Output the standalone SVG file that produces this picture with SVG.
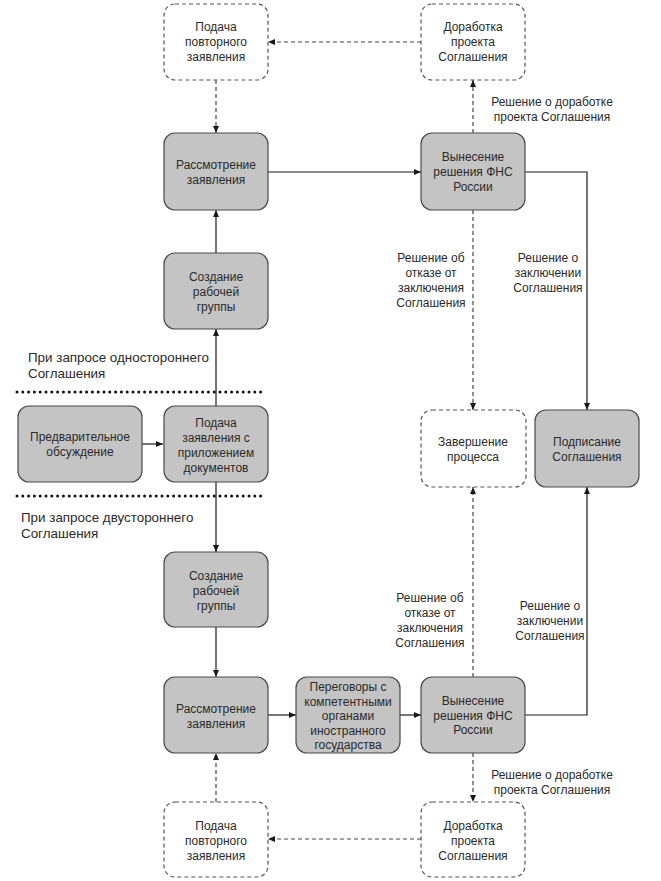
<svg xmlns="http://www.w3.org/2000/svg" width="661" height="881" viewBox="0 0 661 881">
<defs>
<marker id="ah" markerUnits="userSpaceOnUse" markerWidth="8" markerHeight="8" refX="7" refY="3" orient="auto">
<path d="M0,0 L7,3 L0,6 z" fill="#1a1a1a"/>
</marker>
<style>
.box{fill:#c4c4c4;stroke:#4a4a4a;stroke-width:1.2}
.dbox{fill:#ffffff;stroke:#555;stroke-width:1.2;stroke-dasharray:4 3}
.t{font-family:"Liberation Sans",Arial,sans-serif;font-size:12px;fill:#2a2a2a;text-anchor:middle}
.l{font-family:"Liberation Sans",Arial,sans-serif;font-size:13.4px;fill:#2a2a2a}
.s{fill:none;stroke:#1a1a1a;stroke-width:1.2;marker-end:url(#ah)}
.d{fill:none;stroke:#444;stroke-width:1.2;stroke-dasharray:4 3;marker-end:url(#ah)}
.sep{stroke:#111;stroke-width:3;stroke-linecap:round;stroke-dasharray:0 5.8}
</style>
</defs>
<rect width="661" height="881" fill="#ffffff"/>

<g id="separators">
<line class="sep" x1="17" y1="392" x2="262" y2="392"/>
<line class="sep" x1="17" y1="496" x2="262" y2="496"/>
</g>

<g id="connectors">
<line class="d" x1="421" y1="42" x2="268" y2="42"/>
<line class="d" x1="216" y1="80" x2="216" y2="133"/>
<line class="s" x1="268" y1="172" x2="421" y2="172"/>
<line class="d" x1="473" y1="133" x2="473" y2="80"/>
<line class="d" x1="473" y1="210" x2="473" y2="410"/>
<path class="s" d="M525,172 H587 V410"/>
<line class="s" x1="216" y1="406" x2="216" y2="329"/>
<line class="s" x1="216" y1="253" x2="216" y2="210"/>
<line class="s" x1="142" y1="444" x2="163" y2="444"/>
<line class="s" x1="216" y1="482" x2="216" y2="552"/>
<line class="s" x1="216" y1="627" x2="216" y2="677"/>
<line class="s" x1="268" y1="715" x2="296" y2="715"/>
<line class="s" x1="400" y1="715" x2="421" y2="715"/>
<line class="d" x1="473" y1="677" x2="473" y2="487"/>
<path class="s" d="M525,715 H587 V487"/>
<line class="d" x1="473" y1="753" x2="473" y2="802"/>
<line class="d" x1="421" y1="839" x2="268" y2="839"/>
<line class="d" x1="216" y1="802" x2="216" y2="753"/>
</g>

<g id="labels">
<text class="t" x="552" y="106">Решение о доработке</text>
<text class="t" x="552" y="121">проекта Соглашения</text>
<text class="t" x="431" y="262">Решение об</text>
<text class="t" x="431" y="277">отказе от</text>
<text class="t" x="431" y="292">заключения</text>
<text class="t" x="431" y="307">Соглашения</text>
<text class="t" x="548" y="262">Решение о</text>
<text class="t" x="548" y="277">заключении</text>
<text class="t" x="548" y="292">Соглашения</text>
<text class="l" x="28" y="362">При запросе одностороннего</text>
<text class="l" x="28" y="378">Соглашения</text>
<text class="l" x="21" y="522">При запросе двустороннего</text>
<text class="l" x="21" y="538">Соглашения</text>
<text class="t" x="430" y="602">Решение об</text>
<text class="t" x="430" y="617">отказе от</text>
<text class="t" x="430" y="632">заключения</text>
<text class="t" x="430" y="647">Соглашения</text>
<text class="t" x="550" y="610">Решение о</text>
<text class="t" x="550" y="625">заключении</text>
<text class="t" x="550" y="640">Соглашения</text>
<text class="t" x="552" y="779">Решение о доработке</text>
<text class="t" x="552" y="794">проекта Соглашения</text>
</g>

<g id="n-podacha-top">
<rect class="dbox" x="164" y="4" width="104" height="76" rx="11"/>
<text class="t" x="216" y="31">Подача</text>
<text class="t" x="216" y="46">повторного</text>
<text class="t" x="216" y="61">заявления</text>
</g>
<g id="n-dorabotka-top">
<rect class="dbox" x="421" y="4" width="104" height="76" rx="11"/>
<text class="t" x="473" y="31">Доработка</text>
<text class="t" x="473" y="46">проекта</text>
<text class="t" x="473" y="61">Соглашения</text>
</g>
<g id="n-rassm-top">
<rect class="box" x="164" y="133" width="104" height="77" rx="11"/>
<text class="t" x="216" y="168.5">Рассмотрение</text>
<text class="t" x="216" y="183.5">заявления</text>
</g>
<g id="n-vynes-top">
<rect class="box" x="421" y="133" width="104" height="77" rx="11"/>
<text class="t" x="473" y="161">Вынесение</text>
<text class="t" x="473" y="176">решения ФНС</text>
<text class="t" x="473" y="191">России</text>
</g>
<g id="n-sozd-top">
<rect class="box" x="164" y="253" width="104" height="76" rx="11"/>
<text class="t" x="216" y="281">Создание</text>
<text class="t" x="216" y="296">рабочей</text>
<text class="t" x="216" y="311">группы</text>
</g>
<g id="n-predv">
<rect class="box" x="18" y="406" width="124" height="76" rx="11"/>
<text class="t" x="80" y="441">Предварительное</text>
<text class="t" x="80" y="456">обсуждение</text>
</g>
<g id="n-podacha-main">
<rect class="box" x="164" y="406" width="104" height="76" rx="11"/>
<text class="t" x="216" y="427">Подача</text>
<text class="t" x="216" y="442">заявления с</text>
<text class="t" x="216" y="457">приложением</text>
<text class="t" x="216" y="472">документов</text>
</g>
<g id="n-zaversh">
<rect class="dbox" x="421" y="410" width="105" height="77" rx="11"/>
<text class="t" x="473" y="446">Завершение</text>
<text class="t" x="473" y="461">процесса</text>
</g>
<g id="n-podpis">
<rect class="box" x="535" y="410" width="104" height="77" rx="11"/>
<text class="t" x="587" y="446">Подписание</text>
<text class="t" x="587" y="461">Соглашения</text>
</g>
<g id="n-sozd-bot">
<rect class="box" x="164" y="552" width="104" height="75" rx="11"/>
<text class="t" x="216" y="580">Создание</text>
<text class="t" x="216" y="595">рабочей</text>
<text class="t" x="216" y="610">группы</text>
</g>
<g id="n-rassm-bot">
<rect class="box" x="164" y="677" width="104" height="76" rx="11"/>
<text class="t" x="216" y="713">Рассмотрение</text>
<text class="t" x="216" y="728">заявления</text>
</g>
<g id="n-peregov">
<rect class="box" x="296" y="677" width="104" height="76" rx="11"/>
<text class="t" x="348" y="691">Переговоры с</text>
<text class="t" x="348" y="705.5">компетентными</text>
<text class="t" x="348" y="720">органами</text>
<text class="t" x="348" y="734.5">иностранного</text>
<text class="t" x="348" y="749">государства</text>
</g>
<g id="n-vynes-bot">
<rect class="box" x="421" y="677" width="104" height="76" rx="11"/>
<text class="t" x="473" y="705">Вынесение</text>
<text class="t" x="473" y="720">решения ФНС</text>
<text class="t" x="473" y="734">России</text>
</g>
<g id="n-podacha-bot">
<rect class="dbox" x="164" y="802" width="104" height="75" rx="11"/>
<text class="t" x="216" y="830">Подача</text>
<text class="t" x="216" y="845">повторного</text>
<text class="t" x="216" y="860">заявления</text>
</g>
<g id="n-dorabotka-bot">
<rect class="dbox" x="421" y="802" width="104" height="75" rx="11"/>
<text class="t" x="473" y="830">Доработка</text>
<text class="t" x="473" y="845">проекта</text>
<text class="t" x="473" y="860">Соглашения</text>
</g>
</svg>
